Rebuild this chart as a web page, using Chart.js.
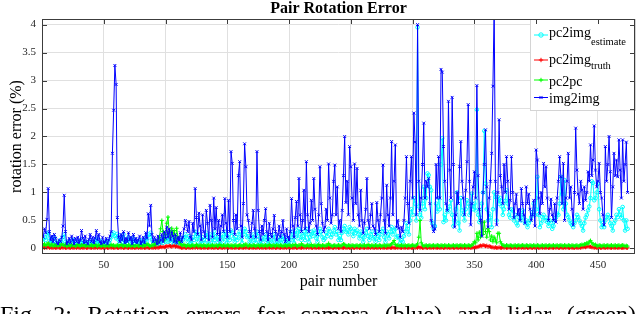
<!DOCTYPE html>
<html>
<head>
<meta charset="utf-8">
<script src="https://cdn.jsdelivr.net/npm/chart.js@4.4.1/dist/chart.umd.min.js"></script>
<style>
html, body { margin: 0; padding: 0; background: #fff; width: 640px; height: 314px; overflow: hidden; }
#wrap { position: relative; width: 640px; height: 314px; overflow: hidden; }
#caption {
    position: absolute; left: 0; top: 302px; width: 636px;
    font-family: 'Liberation Serif', 'Times New Roman', serif;
    font-size: 24px; line-height: 24px; color: #000;
    text-align: justify; text-align-last: justify;
}
</style>
</head>
<body>
<div id="wrap">
    <canvas id="errChart" width="640" height="314"></canvas>
    <div id="caption">Fig. 2: Rotation errors for camera (blue) and lidar (green)</div>
</div>
<script>
// axis ticks
const xTicks = [50, 100, 150, 200, 250, 300, 350, 400, 450];
const yTicks = [0, 0.5, 1, 1.5, 2, 2.5, 3, 3.5, 4];

// series names (legend)
const seriesNames = ['pc2img', 'pc2img', 'pc2pc', 'img2img'];
const seriesSubs = ['estimate', 'truth', '', ''];

// pc2img estimate (cyan), one value per pair, pairs 1..474
const pc2imgEstimate = [
    0.12, 0.2, 0.15, 0.25, 0.28, 0.18, 0.1, 0.15, 0.08, 0.2,
    0.12, 0.06, 0.1, 0.08, 0.15, 0.1, 0.2, 0.25, 0.12, 0.05,
    0.08, 0.12, 0.06, 0.1, 0.15, 0.05, 0.1, 0.08, 0.12, 0.06,
    0.1, 0.15, 0.08, 0.05, 0.12, 0.1, 0.06, 0.1, 0.15, 0.08,
    0.12, 0.06, 0.1, 0.18, 0.08, 0.15, 0.1, 0.05, 0.12, 0.08,
    0.1, 0.12, 0.06, 0.1, 0.15, 0.2, 0.25, 0.28, 0.22, 0.18,
    0.26, 0.15, 0.1, 0.2, 0.12, 0.25, 0.08, 0.15, 0.1, 0.2,
    0.12, 0.15, 0.06, 0.18, 0.1, 0.12, 0.08, 0.1, 0.15, 0.06,
    0.1, 0.15, 0.08, 0.2, 0.12, 0.25, 0.2, 0.28, 0.15, 0.1,
    0.12, 0.1, 0.06, 0.15, 0.08, 0.1, 0.18, 0.1, 0.2, 0.12,
    0.2, 0.12, 0.25, 0.1, 0.18, 0.15, 0.08, 0.2, 0.06, 0.12,
    0.1, 0.18, 0.08, 0.15, 0.2, 0.25, 0.18, 0.12, 0.22, 0.1,
    0.08, 0.2, 0.15, 0.3, 0.22, 0.12, 0.25, 0.18, 0.08, 0.2,
    0.15, 0.1, 0.28, 0.2, 0.08, 0.25, 0.18, 0.1, 0.3, 0.15,
    0.22, 0.12, 0.2, 0.08, 0.18, 0.25, 0.12, 0.3, 0.2, 0.1,
    0.25, 0.15, 0.32, 0.28, 0.18, 0.12, 0.2, 0.15, 0.25, 0.3,
    0.18, 0.1, 0.25, 0.35, 0.3, 0.2, 0.22, 0.12, 0.1, 0.18,
    0.25, 0.15, 0.1, 0.3, 0.22, 0.12, 0.08, 0.18, 0.12, 0.2,
    0.25, 0.15, 0.08, 0.2, 0.12, 0.1, 0.18, 0.25, 0.12, 0.08,
    0.12, 0.2, 0.1, 0.15, 0.22, 0.12, 0.06, 0.18, 0.1, 0.08,
    0.15, 0.3, 0.2, 0.1, 0.25, 0.32, 0.18, 0.35, 0.25, 0.15,
    0.22, 0.3, 0.15, 0.35, 0.25, 0.12, 0.2, 0.3, 0.22, 0.32,
    0.28, 0.18, 0.12, 0.25, 0.35, 0.3, 0.2, 0.15, 0.18, 0.28,
    0.22, 0.35, 0.3, 0.2, 0.25, 0.32, 0.38, 0.25, 0.3, 0.15,
    0.22, 0.15, 0.28, 0.35, 0.4, 0.3, 0.32, 0.25, 0.38, 0.35,
    0.3, 0.22, 0.35, 0.28, 0.32, 0.25, 0.18, 0.3, 0.22, 0.12,
    0.2, 0.28, 0.35, 0.22, 0.15, 0.25, 0.3, 0.18, 0.2, 0.12,
    0.3, 0.22, 0.15, 0.25, 0.3, 0.35, 0.2, 0.12, 0.3, 0.25,
    0.18, 0.3, 0.38, 0.25, 0.32, 0.35, 0.2, 0.22, 0.18, 0.1,
    0.15, 0.12, 0.22, 0.3, 0.45, 0.35, 0.25, 0.5, 0.7, 0.6,
    0.9, 0.8, 0.5, 3.95, 0.75, 0.6, 0.55, 0.8, 1.1, 0.7,
    0.9, 1.34, 1.31, 1.1, 1.04, 0.45, 0.35, 0.4, 0.8, 0.66,
    0.9, 0.7, 1.5, 1.97, 0.47, 0.6, 0.5, 0.68, 0.66, 0.75,
    0.86, 0.6, 0.4, 0.5, 0.7, 1.0, 0.45, 0.32, 0.9, 0.68,
    0.6, 0.5, 0.7, 0.86, 0.8, 0.6, 0.75, 0.98, 0.7, 0.8,
    0.68, 2.48, 0.6, 0.47, 0.55, 0.8, 1.0, 2.1, 1.16, 0.7,
    0.5, 0.62, 0.55, 0.38, 0.7, 1.0, 0.92, 0.5, 0.92, 0.8,
    0.9, 0.75, 0.6, 0.7, 0.85, 1.04, 0.8, 0.6, 0.55, 0.7,
    0.68, 0.5, 0.6, 0.45, 0.41, 0.55, 0.6, 0.5, 0.68, 0.55,
    0.45, 0.5, 0.38, 0.45, 0.5, 0.56, 0.65, 0.8, 0.6, 0.7,
    1.28, 0.6, 0.38, 0.45, 0.56, 0.6, 0.5, 0.55, 0.47, 0.4,
    0.5, 0.45, 0.35, 0.4, 0.5, 0.55, 0.62, 0.6, 0.8, 1.28,
    0.97, 0.7, 1.22, 0.8, 0.6, 0.56, 0.5, 0.45, 0.42, 0.38,
    0.45, 0.5, 0.6, 0.56, 0.5, 0.45, 0.4, 0.32, 0.45, 0.55,
    0.6, 0.68, 0.75, 0.9, 1.2, 1.17, 0.86, 0.9, 1.0, 1.16,
    0.7, 0.5, 0.38, 0.45, 0.38, 0.5, 0.56, 0.6, 0.55, 0.45,
    0.4, 0.32, 0.45, 0.5, 0.6, 0.56, 0.7, 0.6, 0.55, 0.74,
    0.5, 0.32, 0.5, 0.35
];

// pc2img truth (red)
const pc2imgTruth = [
    .02, .01, .02, .01, .03, .01, .02, .01, .01, .02,
    .01, .01, .02, .01, .01, .02, .01, .02, .01, .01,
    .02, .01, .01, .02, .01, .01, .02, .01, .02, .01,
    .01, .02, .01, .01, .02, .01, .01, .02, .01, .01,
    .02, .01, .01, .02, .01, .02, .01, .01, .02, .01,
    .01, .02, .01, .01, .02, .01, .02, .01, .01, .02,
    .01, .01, .02, .01, .02, .01, .01, .02, .01, .01,
    .02, .01, .01, .02, .01, .01, .02, .01, .02, .01,
    .01, .02, .01, .01, .02, .01, .01, .02, .01, .01,
    .02, .01, .02, .01, .02, .03, .02, .03, .02, .03,
    .04, .03, .05, .04, .03, .04, .05, .03, .04, .03,
    .02, .02, .01, .01, .02, .01, .01, .02, .01, .01,
    .02, .01, .02, .01, .03, .01, .02, .01, .01, .02,
    .01, .01, .02, .01, .01, .02, .01, .02, .01, .01,
    .02, .01, .01, .02, .01, .01, .02, .01, .02, .01,
    .01, .02, .01, .01, .02, .01, .01, .02, .01, .01,
    .02, .01, .01, .02, .01, .02, .01, .01, .02, .01,
    .01, .02, .01, .01, .02, .01, .02, .01, .01, .02,
    .01, .01, .02, .01, .02, .01, .01, .02, .01, .01,
    .02, .01, .01, .02, .01, .01, .02, .01, .02, .01,
    .01, .02, .01, .01, .02, .01, .01, .02, .01, .01,
    .02, .01, .02, .01, .03, .01, .02, .01, .01, .02,
    .01, .01, .02, .01, .01, .02, .01, .02, .01, .01,
    .02, .01, .01, .02, .01, .01, .02, .01, .02, .01,
    .01, .02, .01, .01, .02, .01, .01, .02, .01, .01,
    .02, .01, .01, .02, .01, .02, .01, .01, .02, .01,
    .01, .02, .01, .01, .02, .01, .02, .01, .01, .02,
    .01, .01, .02, .01, .02, .01, .01, .02, .01, .01,
    .02, .01, .01, .02, .01, .01, .02, .01, .02, .01,
    .01, .02, .01, .01, .02, .01, .01, .02, .01, .01,
    .02, .01, .02, .01, .03, .01, .02, .01, .01, .02,
    .01, .01, .02, .01, .01, .02, .01, .02, .01, .01,
    .02, .01, .01, .02, .01, .01, .02, .01, .02, .01,
    .01, .02, .01, .01, .02, .01, .01, .02, .01, .01,
    .02, .01, .01, .02, .01, .02, .01, .01, .02, .01,
    .02, .02, .03, .04, .05, .04, .06, .05, .04, .05,
    .03, .04, .03, .02, .02, .01, .02, .01, .01, .02,
    .01, .01, .02, .01, .02, .01, .01, .02, .01, .01,
    .02, .01, .01, .02, .01, .01, .02, .01, .02, .01,
    .01, .02, .01, .01, .02, .01, .01, .02, .01, .01,
    .02, .01, .01, .02, .01, .02, .01, .01, .02, .01,
    .01, .02, .01, .01, .02, .01, .02, .01, .01, .02,
    .01, .01, .02, .01, .02, .01, .01, .02, .01, .01,
    .01, .02, .01, .01, .02, .01, .02, .02, .03, .02,
    .03, .04, .03, .03, .02, .02, .01, .02, .01, .01,
    .02, .01, .01, .02, .01, .01, .02, .01, .02, .01,
    .01, .02, .01, .01, .02, .01, .01, .02, .01, .01,
    .01, .02, .01, .01
];

// pc2pc (green)
const pc2pc = [
    .06, .08, .05, .07, .1, .06, .05, .08, .04, .06,
    .05, .07, .04, .06, .05, .08, .06, .05, .07, .04,
    .05, .06, .04, .07, .05, .06, .04, .05, .07, .05,
    .04, .06, .05, .07, .04, .05, .06, .04, .05, .06,
    .04, .05, .07, .05, .04, .06, .05, .04, .06, .05,
    .04, .05, .06, .04, .05, .07, .05, .06, .04, .05,
    .06, .04, .05, .07, .05, .04, .06, .05, .04, .06,
    .05, .04, .06, .05, .04, .05, .06, .04, .05, .06,
    .05, .04, .06, .05, .08, .06, .05, .04, .06, .05,
    .08, .06, .12, .1, .2, .35, .5, .3, .15, .25,
    .45, .56, .3, .2, .36, .25, .32, .15, .36, .2,
    .12, .08, .06, .05, .07, .05, .04, .06, .05, .04,
    .05, .06, .04, .05, .07, .05, .04, .06, .05, .04,
    .06, .05, .04, .05, .06, .04, .05, .06, .04, .05,
    .06, .04, .05, .07, .05, .04, .06, .05, .04, .06,
    .05, .04, .06, .05, .04, .05, .06, .04, .05, .06,
    .05, .04, .06, .05, .08, .05, .04, .06, .05, .04,
    .06, .05, .04, .05, .06, .04, .05, .06, .04, .05,
    .06, .04, .05, .07, .05, .04, .06, .05, .04, .06,
    .05, .04, .06, .05, .04, .05, .06, .04, .05, .06,
    .05, .04, .06, .05, .07, .05, .04, .06, .05, .08,
    .06, .05, .04, .05, .06, .04, .05, .07, .04, .05,
    .06, .04, .05, .07, .05, .04, .06, .05, .04, .06,
    .05, .09, .06, .05, .04, .05, .06, .04, .05, .06,
    .05, .04, .06, .08, .07, .05, .04, .06, .05, .04,
    .06, .05, .04, .05, .06, .04, .05, .06, .04, .05,
    .06, .04, .05, .07, .05, .04, .06, .05, .04, .06,
    .05, .04, .06, .05, .04, .05, .06, .04, .05, .06,
    .05, .06, .08, .1, .14, .07, .05, .06, .04, .05,
    .06, .04, .05, .06, .04, .05, .06, .04, .05, .06,
    .05, .04, .06, .08, .2, .5, .1, .06, .04, .05,
    .06, .04, .05, .06, .04, .05, .06, .04, .05, .06,
    .05, .04, .06, .05, .04, .06, .05, .04, .06, .05,
    .04, .05, .06, .04, .05, .06, .04, .05, .06, .05,
    .04, .06, .05, .04, .06, .05, .04, .06, .08, .12,
    .1, .27, .15, .29, .2, .47, .25, .47, .3, .2,
    .35, .3, .15, .22, .12, .2, .15, .1, .27, .27,
    .12, .08, .06, .05, .04, .06, .05, .04, .06, .05,
    .04, .05, .06, .04, .05, .06, .04, .05, .06, .05,
    .04, .06, .05, .04, .06, .05, .04, .06, .05, .04,
    .06, .05, .04, .05, .06, .04, .05, .06, .04, .05,
    .06, .04, .05, .06, .04, .05, .06, .04, .05, .06,
    .05, .04, .06, .05, .04, .06, .05, .04, .06, .05,
    .04, .05, .06, .04, .05, .06, .07, .06, .08, .07,
    .1, .08, .12, .14, .1, .08, .06, .07, .05, .04,
    .06, .05, .04, .05, .06, .04, .05, .06, .04, .05,
    .06, .04, .05, .06, .04, .05, .06, .04, .05, .06,
    .05, .04, .05, .04
];

// img2img (blue)
const img2img = [
    0.2, 0.35, 0.28, 0.52, 1.07, 0.3, 0.15, 0.22, 0.12, 0.25,
    0.18, 0.1, 0.08, 0.15, 0.12, 0.2, 0.4, 0.95, 0.3, 0.08,
    0.12, 0.18, 0.1, 0.22, 0.15, 0.08, 0.18, 0.12, 0.2, 0.1,
    0.15, 0.32, 0.18, 0.1, 0.22, 0.12, 0.08, 0.16, 0.25, 0.12,
    0.2, 0.1, 0.18, 0.32, 0.15, 0.25, 0.12, 0.08, 0.2, 0.1,
    0.12, 0.18, 0.08, 0.15, 0.22, 0.3, 1.7, 2.47, 3.27, 2.93,
    0.55, 0.2, 0.12, 0.25, 0.15, 0.3, 0.1, 0.18, 0.12, 0.28,
    0.15, 0.2, 0.08, 0.25, 0.12, 0.18, 0.1, 0.15, 0.22, 0.08,
    0.12, 0.2, 0.1, 0.28, 0.18, 0.62, 0.4, 0.77, 0.25, 0.12,
    0.2, 0.15, 0.08, 0.22, 0.1, 0.15, 0.25, 0.12, 0.3, 0.18,
    0.38, 0.2, 0.35, 0.15, 0.3, 0.22, 0.12, 0.25, 0.1, 0.2,
    0.15, 0.28, 0.12, 0.2, 0.35, 0.5, 0.42, 0.3, 0.48, 0.2,
    0.15, 0.45, 0.3, 1.07, 0.55, 0.25, 0.63, 0.4, 0.15, 0.6,
    0.3, 0.2, 0.68, 0.45, 0.15, 0.77, 0.5, 0.2, 0.9, 0.35,
    0.73, 0.25, 0.5, 0.15, 0.4, 0.6, 0.3, 0.89, 0.45, 0.2,
    0.86, 0.3, 1.73, 1.52, 0.5, 0.25, 0.6, 0.35, 1.3, 1.55,
    0.4, 0.2, 0.8, 1.87, 1.46, 0.6, 0.5, 0.3, 0.2, 0.45,
    0.68, 0.35, 0.2, 1.73, 0.68, 0.3, 0.15, 0.4, 0.25, 0.5,
    0.71, 0.3, 0.15, 0.45, 0.25, 0.2, 0.35, 0.59, 0.3, 0.15,
    0.25, 0.4, 0.2, 0.3, 0.5, 0.25, 0.12, 0.35, 0.2, 0.15,
    0.3, 0.89, 0.4, 0.2, 0.55, 0.84, 0.4, 1.25, 0.6, 0.3,
    0.5, 1.04, 0.35, 1.55, 0.6, 0.3, 0.45, 0.86, 0.5, 1.25,
    0.7, 0.4, 0.25, 0.6, 1.46, 0.8, 0.45, 0.3, 0.38, 0.7,
    0.5, 1.51, 0.9, 0.45, 0.6, 1.2, 1.49, 0.6, 1.1, 0.35,
    0.5, 0.3, 0.68, 1.3, 2.0, 0.82, 1.2, 0.6, 1.82, 1.46,
    0.9, 0.5, 1.51, 0.8, 1.43, 0.6, 0.4, 1.04, 0.5, 0.27,
    0.45, 0.7, 1.25, 0.5, 0.35, 0.6, 0.8, 0.4, 0.36, 0.25,
    0.82, 0.5, 0.3, 0.6, 0.9, 1.49, 0.5, 0.27, 1.13, 0.6,
    0.4, 0.9, 1.91, 0.6, 1.2, 1.85, 0.38, 0.5, 0.36, 0.2,
    0.38, 0.3, 0.5, 0.9, 1.64, 0.8, 0.45, 1.2, 1.64, 0.9,
    2.42, 1.9, 0.6, 4.0, 1.2, 0.68, 0.9, 1.5, 2.24, 0.9,
    1.2, 1.1, 1.25, 0.8, 0.5, 0.4, 0.3, 0.35, 1.5, 0.9,
    1.64, 0.9, 3.2, 3.15, 1.82, 1.2, 0.8, 0.68, 2.63, 1.4,
    0.9, 2.7, 1.5, 0.38, 0.6, 1.0, 0.8, 1.46, 1.91, 1.2,
    0.9, 0.6, 1.04, 1.55, 2.57, 1.2, 0.42, 0.8, 1.1, 1.37,
    0.9, 2.91, 1.3, 0.7, 0.5, 0.22, 1.0, 1.5, 2.12, 1.1,
    0.38, 0.9, 1.2, 1.7, 2.9, 4.3, 1.2, 0.42, 1.0, 2.3,
    1.3, 1.1, 0.8, 1.5, 1.0, 1.64, 1.2, 0.7, 0.86, 1.64,
    1.0, 0.55, 0.8, 0.97, 0.6, 0.7, 0.5, 1.07, 0.8, 0.6,
    0.45, 1.1, 0.8, 0.97, 0.7, 0.5, 0.6, 0.86, 0.4, 1.76,
    1.58, 0.9, 0.62, 1.0, 0.8, 1.52, 1.1, 1.46, 0.9, 0.5,
    0.7, 0.88, 0.6, 0.5, 0.8, 0.47, 0.9, 1.2, 1.64, 1.28,
    0.8, 1.52, 0.5, 0.9, 1.2, 1.7, 0.9, 1.1, 0.7, 0.42,
    1.0, 2.15, 1.4, 0.97, 0.8, 1.2, 1.04, 0.7, 1.1, 0.86,
    1.0, 1.37, 1.2, 1.85, 1.3, 1.58, 2.19, 1.4, 1.1, 1.2,
    1.52, 1.0, 0.9, 0.6, 0.42, 1.82, 1.2, 1.5, 2.0, 1.37,
    0.55, 1.1, 1.7, 1.3, 1.58, 1.28, 1.94, 1.4, 0.9, 1.94,
    1.2, 1.5, 1.9, 1.0
];

const serif = "'Liberation Serif', 'Times New Roman', serif";

// turn a value list into {x: pair number, y: value} points
function toPoints(values) {
    return values.map((v, i) => ({ x: i + 1, y: v }));
}

// legend box, axis frame and inward ticks (MATLAB look)
const framePlugin = {
    id: 'frame',
    afterDatasetsDraw(chart) {
        const { ctx, chartArea: a, scales } = chart;
        ctx.save();

        // legend
        const lx = 530, ly = a.top, lw = a.right - lx, lh = 91;
        ctx.fillStyle = '#fff';
        ctx.fillRect(lx, ly, lw, lh);
        ctx.strokeStyle = '#d4d4d4';
        ctx.lineWidth = 1;
        ctx.strokeRect(lx + 0.5, ly + 0.5, lw, lh);

        const rows = [
            { color: '#00ffff', style: 'circle', lineY: 35, base: 37, subBase: 44.5 },
            { color: '#ff0000', style: 'cross', lineY: 60, base: 64, subBase: 69 },
            { color: '#00ff00', style: 'cross', lineY: 80, base: 86, subBase: 0 },
            { color: '#0000ff', style: 'crossRot', lineY: 97.5, base: 103, subBase: 0 }
        ];
        rows.forEach((r, i) => {
            ctx.strokeStyle = r.color;
            ctx.fillStyle = 'rgba(0,0,0,0)';
            ctx.lineWidth = 1;
            ctx.beginPath();
            ctx.moveTo(534, r.lineY);
            ctx.lineTo(548, r.lineY);
            ctx.stroke();
            Chart.helpers.drawPoint(ctx, { pointStyle: r.style, radius: 2.2, borderWidth: 1 }, 541, r.lineY);

            ctx.fillStyle = '#000';
            ctx.textAlign = 'left';
            ctx.textBaseline = 'alphabetic';
            ctx.font = '14px ' + serif;
            ctx.fillText(seriesNames[i], 549, r.base);
            if (seriesSubs[i]) {
                const w = ctx.measureText(seriesNames[i]).width;
                ctx.font = '10.5px ' + serif;
                ctx.fillText(seriesSubs[i], 549 + w, r.subBase);
            }
        });

        // axes box
        ctx.strokeStyle = '#3c3c3c';
        ctx.lineWidth = 1;
        ctx.strokeRect(a.left + 0.5, a.top + 0.5, a.right - a.left - 1, a.bottom - a.top - 1);

        // inward tick marks on all four sides
        ctx.beginPath();
        xTicks.forEach(v => {
            const px = Math.round(scales.x.getPixelForValue(v)) + 0.5;
            ctx.moveTo(px, a.bottom); ctx.lineTo(px, a.bottom - 5);
            ctx.moveTo(px, a.top); ctx.lineTo(px, a.top + 5);
        });
        yTicks.forEach(v => {
            const py = Math.round(scales.y.getPixelForValue(v)) + 0.5;
            ctx.moveTo(a.left, py); ctx.lineTo(a.left + 5, py);
            ctx.moveTo(a.right, py); ctx.lineTo(a.right - 5, py);
        });
        ctx.stroke();
        ctx.restore();
    }
};

const ctx = document.getElementById('errChart').getContext('2d');
const errChart = new Chart(ctx, {
    type: 'line',
    data: {
        datasets: [
            {
                label: 'img2img',
                data: toPoints(img2img),
                borderColor: '#0000ff',
                borderWidth: 1,
                pointStyle: 'crossRot',
                pointRadius: 2,
                pointBorderWidth: 1,
                pointBorderColor: '#0000ff',
                tension: 0,
                order: 0
            },
            {
                label: 'pc2pc',
                data: toPoints(pc2pc),
                borderColor: '#00ff00',
                borderWidth: 1,
                pointStyle: 'cross',
                pointRadius: 2,
                pointBorderWidth: 1,
                pointBorderColor: '#00ff00',
                tension: 0,
                order: 1
            },
            {
                label: 'pc2img truth',
                data: toPoints(pc2imgTruth),
                borderColor: '#ff0000',
                borderWidth: 1,
                pointStyle: 'cross',
                pointRadius: 2,
                pointBorderWidth: 1,
                pointBorderColor: '#ff0000',
                tension: 0,
                order: 2
            },
            {
                label: 'pc2img estimate',
                data: toPoints(pc2imgEstimate),
                borderColor: '#00ffff',
                borderWidth: 1,
                pointStyle: 'circle',
                pointRadius: 1.8,
                pointBorderWidth: 1,
                pointBorderColor: '#00ffff',
                pointBackgroundColor: 'rgba(0,0,0,0)',
                tension: 0,
                order: 3
            }
        ]
    },
    options: {
        responsive: false,
        animation: false,
        layout: {
            padding: { left: 0, right: 1, top: 0, bottom: 0 }
        },
        plugins: {
            legend: { display: false },
            tooltip: { enabled: false },
            title: {
                display: true,
                text: 'Pair Rotation Error',
                fullSize: false,
                color: '#000',
                font: { family: serif, size: 16, weight: 'bold', lineHeight: 0.9 },
                padding: { top: 1.6, bottom: 3 }
            }
        },
        scales: {
            x: {
                type: 'linear',
                min: 0,
                max: 480,
                afterBuildTicks: s => { s.ticks = xTicks.map(v => ({ value: v })); },
                afterFit: s => { s.height = 60; },
                border: { display: false },
                grid: { color: '#e0e0e0', lineWidth: 1, drawTicks: false },
                ticks: {
                    color: '#262626',
                    font: { family: serif, size: 11 },
                    padding: 5,
                    maxRotation: 0,
                    autoSkip: false,
                    callback: v => String(v)
                },
                title: {
                    display: true,
                    text: 'pair number',
                    color: '#000',
                    font: { family: serif, size: 16 },
                    padding: { top: 0, bottom: 22.8 }
                }
            },
            y: {
                min: -0.1,
                max: 4.1,
                afterBuildTicks: s => { s.ticks = yTicks.map(v => ({ value: v })); },
                afterFit: s => { s.width = 42; },
                border: { display: false },
                grid: { color: '#e0e0e0', lineWidth: 1, drawTicks: false },
                ticks: {
                    color: '#262626',
                    font: { family: serif, size: 11 },
                    padding: 6,
                    callback: v => String(v)
                },
                title: {
                    display: true,
                    text: 'rotation error (%)',
                    color: '#000',
                    font: { family: serif, size: 16 },
                    padding: { top: 7, bottom: 0 }
                }
            }
        }
    },
    plugins: [framePlugin]
});
</script>
</body>
</html>
